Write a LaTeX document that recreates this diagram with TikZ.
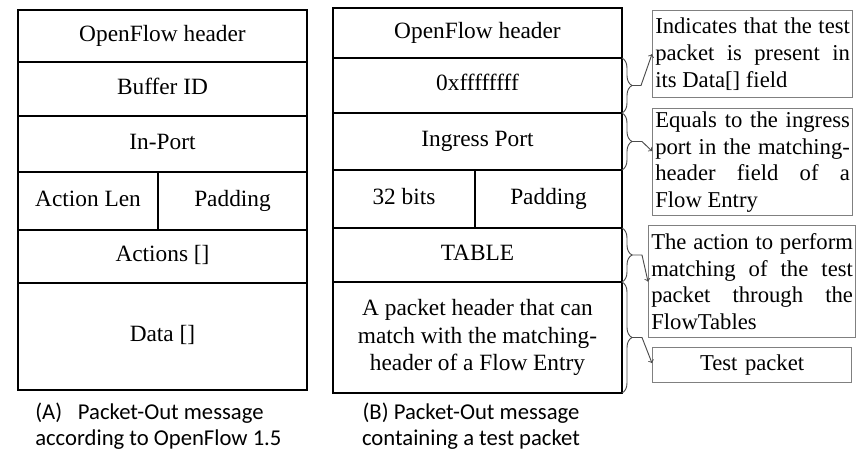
\documentclass[tikz,border=0pt]{standalone}
\usepackage{fontspec}
\setmainfont{Liberation Serif}
\newfontfamily\capfont{Carlito}
\usetikzlibrary{calc,decorations.pathreplacing}

\begin{document}
\begin{tikzpicture}[x=0.75pt, y=-0.75pt, >=to,
	cell/.style={draw, line width=1.35pt, anchor=north west, inner sep=0pt, outer sep=0pt, font=\fontsize{17.5}{20.5}\selectfont},
	one/.style={text height=12pt, text depth=4pt},
	full/.style={minimum width=216.75pt},
	note/.style={draw=gray, line width=0.9pt, anchor=north west, inner xsep=2pt, inner ysep=0pt, align=justify, font=\fontsize{17}{20}\selectfont},
	brc/.style={draw=gray!60!black, line width=0.7pt, decorate, decoration={brace, amplitude=7.5pt}},
	pnt/.style={->, draw=gray!60!black, line width=0.7pt},
	captxt/.style={anchor=north, inner sep=0pt, font=\capfont\fontsize{17}{19.25}\selectfont}]
				\useasboundingbox (0,0) rectangle (858,455);
				
				% 1. 左侧报文 (A)
				\node[cell, one, full, minimum height=39pt] (hdrA) at (18,10) {OpenFlow header};
				\node[cell, one, full, minimum height=40.5pt] (bufA) at (18,62) {Buffer ID};
				\node[cell, one, full, minimum height=42pt] (portA) at (18,116) {In-Port};
				\node[cell, one, minimum width=105pt, minimum height=43.5pt] (lenA) at (18,172) {Action Len};
				\node[cell, one, minimum width=111.75pt, minimum height=43.5pt] (padA) at (158,172) {Padding};
				\node[cell, one, full, minimum height=39.75pt] (actA) at (18,230) {Actions []};
				\node[cell, one, full, minimum height=80.25pt] (dataA) at (18,283) {Data []};
				
				% 2. 右侧报文 (B)
				\node[cell, one, full, minimum height=37.5pt] (hdrB) at (333,8) {OpenFlow header};
				\node[cell, one, full, minimum height=41.25pt] (maskB) at (333,58) {0xffffffff};
				\node[cell, one, full, minimum height=42.75pt] (ingB) at (333,113) {Ingress Port};
				\node[cell, one, minimum width=106.5pt, minimum height=43.5pt] (bitsB) at (333,170) {32 bits};
				\node[cell, one, minimum width=110.25pt, minimum height=43.5pt] (padB) at (475,170) {Padding};
				\node[cell, one, full, minimum height=40.5pt] (tblB) at (333,228) {TABLE};
				\node[cell, full, minimum height=83.25pt, align=center] (pktB) at (333,282) {A packet header that can\\match with the matching-\\header of a Flow Entry};
				
				% 3. 说明框
				\node[note, text width=146pt, minimum height=65.25pt] (n1) at (652,10) {Indicates that the test\linebreak packet is present in\linebreak its Data[] field};
				\node[note, text width=146pt, minimum height=80.25pt] (n2) at (652,108) {Equals to the ingress\linebreak port in the matching-\linebreak header field of a\linebreak Flow Entry};
				\node[note, text width=151.25pt, minimum height=84pt] (n3) at (648,225) {The action to perform\linebreak matching of the test\linebreak packet through the\linebreak FlowTables};
				\node[note, text width=145.25pt, minimum height=26.25pt, align=center] (n4) at (652,347) {Test packet};
				
				% 4. 大括号与指向箭头
				\draw[brc] (maskB.north east) -- (maskB.south east);
				\draw[brc] (ingB.north east) -- (ingB.south east);
				\draw[brc] (tblB.north east) -- (tblB.south east);
				\draw[brc] (pktB.north east) -- (pktB.south east);
				\coordinate (t1) at ($(maskB.east)+(10,0)$);
				\coordinate (t2) at ($(ingB.east)+(10,0)$);
				\coordinate (t3) at ($(tblB.east)+(10,0)$);
				\coordinate (t4) at ($(pktB.east)+(10,0)$);
				\draw[pnt] (t1) -- ++(9,0) -- (n1.west);
				\draw[pnt] (t2) -- ++(10,0) -- ($(n2.west)+(0,-11)$);
				\draw[pnt] (t3) -- ++(10,0) -- (n3.west);
				\draw[pnt] (t4) -- ++(10,0) -- ($(n4.west)+(0,-2)$);
				
				% 5. 图注
				\node[captxt, anchor=north west, align=left] (capA) at (35,403) {(A)\hspace{0.7em}Packet-Out message\\according to OpenFlow 1.5};
				\node[captxt, align=center] (capB) at (471,403) {(B) Packet-Out message\\containing a test packet};
			\end{tikzpicture}
\end{document}
